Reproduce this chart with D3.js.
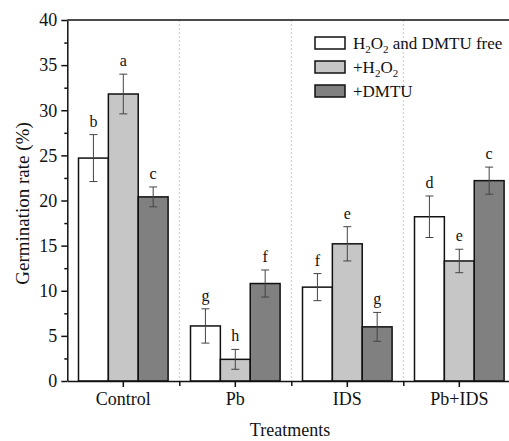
<!DOCTYPE html>
<html>
<head>
<meta charset="utf-8">
<script src="https://cdn.jsdelivr.net/npm/d3@7"></script>
<style>
  body { margin: 0; background: #fff; }
  text { font-family: "Liberation Serif", "Times New Roman", serif; fill: #111; }
</style>
</head>
<body>
<div data-js-graph></div>
<script>
// data
const categories = ['Control', 'Pb', 'IDS', 'Pb+IDS'];
const seriesKeys = ['free', 'h2o2', 'dmtu'];
const valuesFree = [24.7, 6.1, 10.4, 18.2];
const valuesH2O2 = [31.8, 2.4, 15.2, 13.3];
const valuesDMTU = [20.4, 10.8, 6.0, 22.2];
const errFree = [2.6, 1.9, 1.5, 2.3];
const errH2O2 = [2.2, 1.1, 1.9, 1.3];
const errDMTU = [1.1, 1.5, 1.6, 1.5];
const lettersFree = ['b', 'g', 'f', 'd'];
const lettersH2O2 = ['a', 'h', 'e', 'e'];
const lettersDMTU = ['c', 'f', 'g', 'c'];
const yTicks = [0, 5, 10, 15, 20, 25, 30, 35, 40];

const SETTING = {
  width: 509,
  height: 441,
  left: 67.3,
  right: 515.3, // frame runs past the picture edge
  top: 20,
  bottom: 381,
};

const colors = { free: '#ffffff', h2o2: '#c6c6c6', dmtu: '#808080' };

const rows = categories.map((cat, i) => ({
  cat,
  bars: [
    { key: 'free', value: valuesFree[i], err: errFree[i], letter: lettersFree[i] },
    { key: 'h2o2', value: valuesH2O2[i], err: errH2O2[i], letter: lettersH2O2[i] },
    { key: 'dmtu', value: valuesDMTU[i], err: errDMTU[i], letter: lettersDMTU[i] },
  ],
}));

const svg = d3.select('[data-js-graph]').append('svg')
  .attr('width', SETTING.width)
  .attr('height', SETTING.height);

const x = d3.scaleBand()
  .domain(categories)
  .range([SETTING.left, SETTING.right])
  .paddingInner(0.2)
  .paddingOuter(0.1);

const xInner = d3.scaleBand()
  .domain(seriesKeys)
  .range([0, x.bandwidth()]);

const y = d3.scaleLinear()
  .domain([0, 40])
  .range([SETTING.bottom, SETTING.top]);

// dotted separators between groups
const seps = categories.slice(1).map((c) => x(c) - (x.step() * x.paddingInner()) / 2);
svg.append('g')
  .selectAll('line')
  .data(seps)
  .enter()
  .append('line')
  .attr('x1', (d) => d)
  .attr('x2', (d) => d)
  .attr('y1', SETTING.top)
  .attr('y2', SETTING.bottom)
  .attr('stroke', '#c8c8c8')
  .attr('stroke-width', 1)
  .attr('stroke-dasharray', '2,2');

// bars
const groups = svg.append('g')
  .selectAll('g')
  .data(rows)
  .enter()
  .append('g')
  .attr('transform', (d) => `translate(${x(d.cat)},0)`);

groups.selectAll('rect')
  .data((d) => d.bars)
  .enter()
  .append('rect')
  .attr('x', (d) => xInner(d.key))
  .attr('y', (d) => y(d.value))
  .attr('width', xInner.bandwidth())
  .attr('height', (d) => y(0) - y(d.value))
  .attr('fill', (d) => colors[d.key])
  .attr('stroke', '#111')
  .attr('stroke-width', 1.5);

// error bars
const err = groups.selectAll('g.err')
  .data((d) => d.bars)
  .enter()
  .append('g')
  .attr('class', 'err')
  .attr('stroke', '#444')
  .attr('stroke-width', 1);

const cx = (d) => xInner(d.key) + xInner.bandwidth() / 2;
err.append('line')
  .attr('x1', cx).attr('x2', cx)
  .attr('y1', (d) => y(d.value + d.err))
  .attr('y2', (d) => y(d.value - d.err));
[1, -1].forEach((s) => {
  err.append('line')
    .attr('x1', (d) => cx(d) - 4).attr('x2', (d) => cx(d) + 4)
    .attr('y1', (d) => y(d.value + s * d.err))
    .attr('y2', (d) => y(d.value + s * d.err));
});

// significance letters
groups.selectAll('text.letter')
  .data((d) => d.bars)
  .enter()
  .append('text')
  .attr('class', 'letter')
  .attr('x', cx)
  .attr('y', (d) => y(d.value + d.err) - 8)
  .attr('text-anchor', 'middle')
  .style('font-size', '16px')
  .text((d) => d.letter);

// frame
svg.append('line')
  .attr('x1', SETTING.left).attr('x2', SETTING.right)
  .attr('y1', SETTING.top).attr('y2', SETTING.top)
  .attr('stroke', '#111').attr('stroke-width', 1.5);

// y axis
const yAxis = svg.append('g')
  .attr('transform', `translate(${SETTING.left},0)`)
  .call(d3.axisLeft(y).tickValues(yTicks).tickSize(6).tickPadding(4).tickSizeOuter(0));
svg.append('g')
  .attr('transform', `translate(${SETTING.left},0)`)
  .call(d3.axisLeft(y).tickValues(yTicks.slice(1).map((t) => t - 2.5)).tickSize(3).tickFormat(''))
  .call((g) => g.select('.domain').remove());

// x axis
const xAxis = svg.append('g')
  .attr('transform', `translate(0,${SETTING.bottom})`)
  .call(d3.axisBottom(x).tickSize(6).tickPadding(5).tickSizeOuter(0));
svg.append('g')
  .attr('transform', `translate(0,${SETTING.bottom})`)
  .call(d3.axisBottom(d3.scaleIdentity()).tickValues(seps).tickSize(5).tickFormat(''))
  .call((g) => g.select('.domain').remove());

svg.selectAll('.domain, .tick line')
  .attr('stroke', '#111')
  .attr('stroke-width', 1.5);
[yAxis, xAxis].forEach((g) => {
  g.attr('font-family', null).attr('font-size', null);
  g.selectAll('text')
    .style('font-size', '18px')
    .style('font-family', '"Liberation Serif", serif')
    .attr('fill', '#111');
});

// axis titles
svg.append('text')
  .attr('transform', `translate(29,${(SETTING.top + SETTING.bottom) / 2 + 3}) rotate(-90)`)
  .attr('text-anchor', 'middle')
  .style('font-size', '19px')
  .text('Germination rate (%)');

svg.append('text')
  .attr('x', 290)
  .attr('y', 436)
  .attr('text-anchor', 'middle')
  .style('font-size', '18px')
  .text('Treatments');

// legend
const legend = svg.append('g').attr('transform', 'translate(315,37)');
const legendItems = [
  { key: 'free', parts: [['H', 0], ['2', 1], ['O', 0], ['2', 1], [' and DMTU free', 0]] },
  { key: 'h2o2', parts: [['+H', 0], ['2', 1], ['O', 0], ['2', 1]] },
  { key: 'dmtu', parts: [['+DMTU', 0]] },
];
const li = legend.selectAll('g')
  .data(legendItems)
  .enter()
  .append('g')
  .attr('transform', (d, i) => `translate(0,${i * 24})`);
li.append('rect')
  .attr('width', 30)
  .attr('height', 12)
  .attr('fill', (d) => colors[d.key])
  .attr('stroke', '#111')
  .attr('stroke-width', 1.5);
const lt = li.append('text')
  .attr('x', 38)
  .attr('y', 12)
  .style('font-size', '17px');
lt.selectAll('tspan')
  .data((d) => d.parts)
  .enter()
  .append('tspan')
  .attr('dy', (d, i, nodes) => {
    const prev = i > 0 ? d3.select(nodes[i - 1]).datum()[1] : 0;
    return `${(d[1] - prev) * 4}px`;
  })
  .style('font-size', (d) => (d[1] ? '11px' : '17px'))
  .text((d) => d[0]);
</script>
</body>
</html>
